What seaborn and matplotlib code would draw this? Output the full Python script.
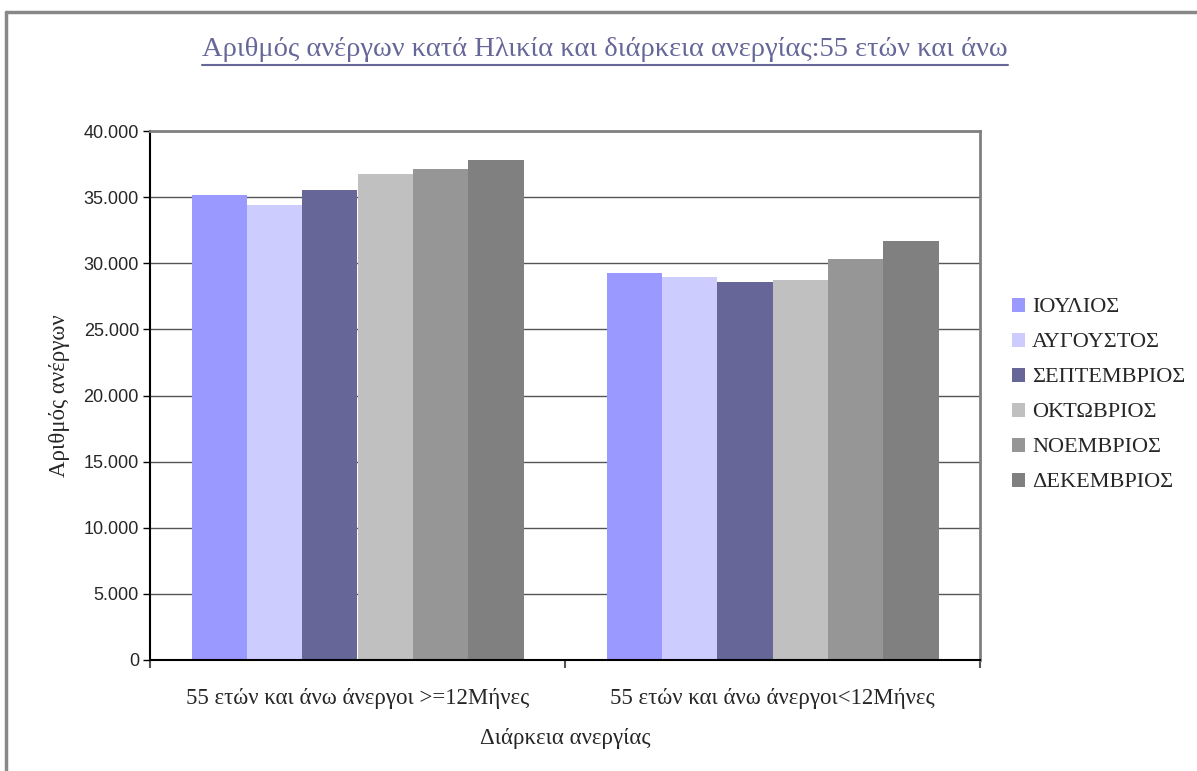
import pandas as pd
import seaborn as sns
import matplotlib.pyplot as plt
from matplotlib.lines import Line2D
from matplotlib.ticker import FuncFormatter, FixedLocator

# Data
categories = ["55 ετών και άνω άνεργοι >=12Μήνες", "55 ετών και άνω άνεργοι<12Μήνες"]
months = ["ΙΟΥΛΙΟΣ", "ΑΥΓΟΥΣΤΟΣ", "ΣΕΠΤΕΜΒΡΙΟΣ", "ΟΚΤΩΒΡΙΟΣ", "ΝΟΕΜΒΡΙΟΣ", "ΔΕΚΕΜΒΡΙΟΣ"]
long_term = [35160, 34400, 35540, 36750, 37130, 37810]
short_term = [29260, 28960, 28580, 28730, 30320, 31680]
colors = ["#9999FF", "#CCCCFF", "#666699", "#C0C0C0", "#969696", "#808080"]

rows = []
for m, a, b in zip(months, long_term, short_term):
    rows.append({"cat": categories[0], "month": m, "value": a})
    rows.append({"cat": categories[1], "month": m, "value": b})
df = pd.DataFrame(rows)

sns.set_style("white")
serif = ["Liberation Serif", "DejaVu Serif"]
sans = ["Liberation Sans", "DejaVu Sans"]

fig = plt.figure(figsize=(11.97, 7.71), dpi=100)
ax = fig.add_axes([150 / 1197, 1 - 660 / 771, 830 / 1197, 529 / 771])

sns.barplot(data=df, x="cat", y="value", hue="month", order=categories,
            hue_order=months, palette=colors, width=0.8, saturation=1,
            linewidth=0, ax=ax, legend=True)

ax.set_ylim(0, 40000)
ax.set_xlim(-0.5, 1.5)
ax.set_yticks(range(0, 40001, 5000))
ax.yaxis.set_major_formatter(FuncFormatter(lambda v, p: f"{int(v):,}".replace(",", ".")))
ax.yaxis.grid(True, color="#555555", linewidth=1)
ax.set_axisbelow(True)

for lab in ax.get_yticklabels():
    lab.set_family(sans)
    lab.set_fontsize(13)
ax.tick_params(axis="y", direction="out", length=5, width=1, color="black", left=True, pad=3)

ax.set_xticks([0, 1])
ax.set_xticklabels(categories, family=serif, fontsize=16.5)
ax.tick_params(axis="x", which="major", length=0, pad=20)
ax.xaxis.set_minor_locator(FixedLocator([-0.5, 0.5, 1.5]))
ax.tick_params(axis="x", which="minor", direction="out", length=6, width=1.5,
               color="#555555", bottom=True)

for s in ["left", "bottom"]:
    ax.spines[s].set_color("black")
    ax.spines[s].set_linewidth(1.5)
for s in ["top", "right"]:
    ax.spines[s].set_color("#808080")
    ax.spines[s].set_linewidth(2)

ax.set_xlabel("Διάρκεια ανεργίας", family=serif, fontsize=16.5, labelpad=14)
ax.set_ylabel("Αριθμός ανέργων", family=serif, fontsize=16.5, labelpad=10)

# legend
handles, labels = ax.get_legend_handles_labels()
ax.legend_.remove()
fig.legend(handles, labels, loc="center left", bbox_to_anchor=(1012 / 1197, 1 - 395 / 771),
           frameon=False, prop={"family": serif, "size": 16},
           borderpad=0, borderaxespad=0,
           handlelength=0.6, handleheight=0.6, handletextpad=0.3, labelspacing=0.68)

# title with underline
t = fig.text(605 / 1197, 1 - 50 / 771, "Αριθμός ανέργων κατά Ηλικία και διάρκεια ανεργίας:55 ετών και άνω",
             ha="center", va="center", family=serif, fontsize=20.5, color="#666699")
fig.canvas.draw()
bb = t.get_window_extent()
fig.add_artist(Line2D([bb.x0 / 1197, bb.x1 / 1197], [(bb.y0 - 2) / 771] * 2,
                      color="#666699", linewidth=1.5, transform=fig.transFigure))

# outer chart border (top and left visible)
fig.add_artist(Line2D([6 / 1197, 1.0], [1 - 12 / 771] * 2, color="#888888", linewidth=2.5,
                      transform=fig.transFigure))
fig.add_artist(Line2D([6 / 1197] * 2, [0, 1 - 12 / 771], color="#888888", linewidth=2.5,
                      transform=fig.transFigure))

fig.savefig("out.png", dpi=100)
